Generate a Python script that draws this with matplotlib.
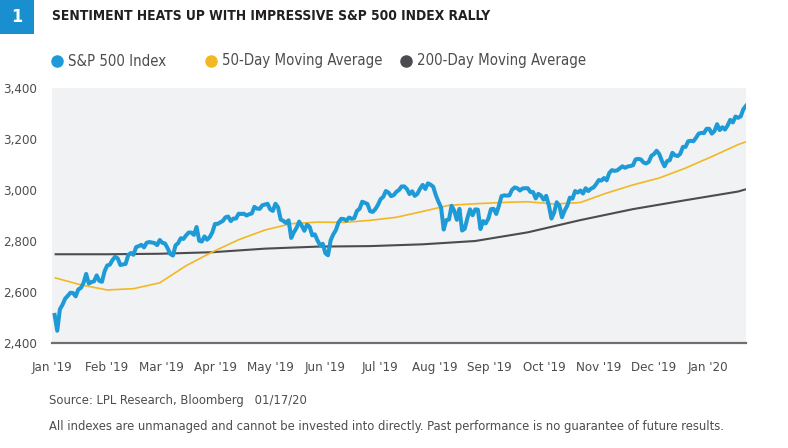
import numpy as np
import matplotlib
matplotlib.use('Agg')
from matplotlib import pyplot as plt
from matplotlib import font_manager as fm
from matplotlib.lines import Line2D

# the original uses a condensed sans; pick one if the system has it, else Roboto
narrow = [f for f in fm.fontManager.ttflist
          if 'Narrow' in f.name or 'Condensed' in f.name or 'condensed' in str(f.stretch)]
reg = [f for f in narrow if f.weight in (400, 'normal', 'regular') and f.style == 'normal']
bld = [f for f in narrow if f.weight in (700, 'bold') and f.style == 'normal']
if reg:
    font_r = fm.FontProperties(fname=reg[0].fname)
    font_b = fm.FontProperties(fname=(bld[0].fname if bld else reg[0].fname))
else:
    font_r = fm.FontProperties(family='Roboto')
    font_b = fm.FontProperties(family='Roboto', weight='bold')

# S&P 500 daily closes, Jan 2 2019 - Jan 17 2020 (trading days)
spx = [
    # Jan 2019
    2510, 2448, 2532, 2550, 2574, 2585, 2597, 2596, 2583, 2610, 2616, 2636, 2671, 2633, 2639, 2642, 2665, 2644, 2640, 2681, 2704,
    # Feb
    2707, 2725, 2738, 2732, 2706, 2708, 2710, 2745, 2753, 2746, 2776, 2780, 2785, 2775, 2793, 2796, 2794, 2792, 2784,
    # Mar
    2804, 2793, 2790, 2771, 2749, 2743, 2783, 2792, 2811, 2808, 2822, 2833, 2833, 2824, 2855, 2801, 2798, 2818, 2805, 2815, 2834,
    # Apr
    2867, 2867, 2873, 2879, 2893, 2896, 2878, 2888, 2888, 2907, 2906, 2907, 2900, 2905, 2908, 2934, 2927, 2926, 2940, 2943, 2946,
    # May
    2924, 2918, 2946, 2932, 2884, 2879, 2871, 2881, 2812, 2834, 2851, 2876, 2860, 2840, 2864, 2856, 2822, 2826, 2802, 2783, 2789, 2752,
    # Jun
    2744, 2803, 2826, 2843, 2873, 2887, 2886, 2880, 2892, 2887, 2890, 2918, 2926, 2954, 2950, 2945, 2917, 2914, 2925, 2942,
    # Jul
    2964, 2973, 2996, 2990, 2976, 2980, 2993, 3000, 3014, 3014, 3004, 2984, 2995, 2977, 2985, 3005, 3020, 3004, 3026, 3021, 3013, 2980,
    # Aug
    2954, 2932, 2845, 2882, 2884, 2938, 2919, 2883, 2926, 2841, 2848, 2889, 2924, 2901, 2924, 2923, 2847, 2878, 2869, 2888, 2925, 2926,
    # Sep
    2906, 2938, 2976, 2979, 2978, 2979, 3001, 3010, 3007, 2998, 3006, 3007, 3007, 2992, 2992, 2967, 2985, 2978, 2962, 2977,
    # Oct
    2940, 2888, 2911, 2952, 2939, 2893, 2919, 2938, 2970, 2966, 2996, 2990, 2998, 2986, 3007, 2996, 3005, 3010, 3023, 3039, 3037, 3047, 3038,
    # Nov
    3067, 3078, 3075, 3077, 3085, 3093, 3087, 3092, 3094, 3097, 3120, 3122, 3120, 3108, 3104, 3110, 3134, 3141, 3154, 3141,
    # Dec
    3114, 3093, 3113, 3117, 3146, 3136, 3133, 3142, 3169, 3169, 3191, 3193, 3191, 3205, 3221, 3224, 3223, 3240, 3240, 3221, 3231,
    # Jan 2020
    3258, 3235, 3246, 3237, 3253, 3275, 3265, 3288, 3283, 3289, 3317, 3330,
]

# moving averages at every 10th / 20th trading day
ma50_idx = [0, 10, 20, 30, 40, 50, 60, 70, 80, 90, 100, 110, 120, 130, 140, 150, 160, 170, 180, 190, 200, 210, 220, 230, 240, 250, 260, 263]
ma50 = [2656, 2628, 2608, 2613, 2636, 2703, 2757, 2805, 2843, 2868, 2874, 2873, 2881, 2893, 2916, 2940, 2946, 2951, 2954, 2945,
        2951, 2988, 3020, 3047, 3086, 3131, 3178, 3189]

ma200_idx = [0, 20, 40, 60, 80, 100, 120, 140, 160, 180, 200, 220, 240, 260, 263]
ma200 = [2748, 2748, 2750, 2756, 2770, 2778, 2780, 2787, 2800, 2834, 2882, 2925, 2960, 2994, 3003]

month_labels = ["Jan '19", "Feb '19", "Mar '19", "Apr '19", "May '19", "Jun '19", "Jul '19",
                "Aug '19", "Sep '19", "Oct '19", "Nov '19", "Dec '19", "Jan '20"]
y_ticks = [2400, 2600, 2800, 3000, 3200, 3400]

blue = '#1e9bd7'
yellow = '#f2b824'
dark = '#4b4b50'
text_col = '#4d4d4f'

fig = plt.figure(figsize=(7.88, 4.48), dpi=100)
renderer = fig.canvas.get_renderer()


def fit(t, width_px):
    # scale a text so it spans the same width as in the original
    w = t.get_window_extent(renderer).width
    t.set_fontsize(t.get_fontsize() * width_px / w)
    return t.get_fontsize()


ax = fig.add_axes([52 / 788, 1 - 343 / 448, (746 - 52) / 788, (343 - 88) / 448])
ax.set_facecolor('#f1f2f4')

x = np.arange(len(spx))
ax.plot(ma200_idx, ma200, color=dark, lw=1.5, solid_capstyle='butt')
ax.plot(ma50_idx, ma50, color=yellow, lw=1.2, solid_capstyle='butt')
ax.plot(x, spx, color=blue, lw=2.9, solid_joinstyle='round')

ax.set_xlim(0, len(spx) - 1)
ax.set_ylim(2400, 3400)
ax.set_yticks(y_ticks)
ax.set_xticks(np.linspace(-1, 248.5, len(month_labels)))

# tick label size: "3,400" is ~34 px wide in the original
probe = fig.text(0, 0, '3,400', fontproperties=font_r, fontsize=10)
tick_size = fit(probe, 34)
probe.remove()

ax.set_yticklabels(['{:,}'.format(v) for v in y_ticks], fontproperties=font_r, fontsize=tick_size)
ax.set_xticklabels(month_labels, fontproperties=font_r, fontsize=tick_size)
ax.tick_params(length=0, colors=text_col)
ax.tick_params(axis='x', pad=13)
ax.tick_params(axis='y', pad=11)
for s in ['top', 'right', 'left']:
    ax.spines[s].set_visible(False)
ax.spines['bottom'].set_color('#707073')
ax.spines['bottom'].set_linewidth(1.6)

# header
fig.add_artist(plt.Rectangle((0, 1 - 34 / 448), 34 / 788, 34 / 448, transform=fig.transFigure,
                             color='#1a8fcf', lw=0))
fig.text(17 / 788, 1 - 17 / 448, '1', color='white', fontproperties=font_b, fontsize=13,
         ha='center', va='center')
title = fig.text(52 / 788, 1 - 16 / 448, 'SENTIMENT HEATS UP WITH IMPRESSIVE S&P 500 INDEX RALLY',
                 color='#231f20', fontproperties=font_b, fontsize=12, ha='left', va='center')
fit(title, 440)

# legend
probe = fig.text(0, 0, 'S&P 500 Index', fontproperties=font_r, fontsize=10)
leg_size = fit(probe, 98)
probe.remove()
legend_items = [('S&P 500 Index', blue, 57), ('50-Day Moving Average', yellow, 211),
                ('200-Day Moving Average', dark, 406)]
for label, c, px in legend_items:
    fig.add_artist(Line2D([px / 788], [1 - 61 / 448], marker='o', markersize=8, color=c, lw=0,
                          transform=fig.transFigure))
    fig.text((px + 11) / 788, 1 - 61 / 448, label, color=text_col, fontproperties=font_r,
             fontsize=leg_size, ha='left', va='center')

# footnotes
src = fig.text(49 / 788, 1 - 400 / 448, 'Source: LPL Research, Bloomberg   01/17/20', color=text_col,
               fontproperties=font_r, fontsize=10, ha='left', va='center')
fit(src, 259)
note = fig.text(49 / 788, 1 - 426 / 448,
                'All indexes are unmanaged and cannot be invested into directly. Past performance is no guarantee of future results.',
                color=text_col, fontproperties=font_r, fontsize=10, ha='left', va='center')
fit(note, 674)

fig.savefig('out.png', dpi=100)
